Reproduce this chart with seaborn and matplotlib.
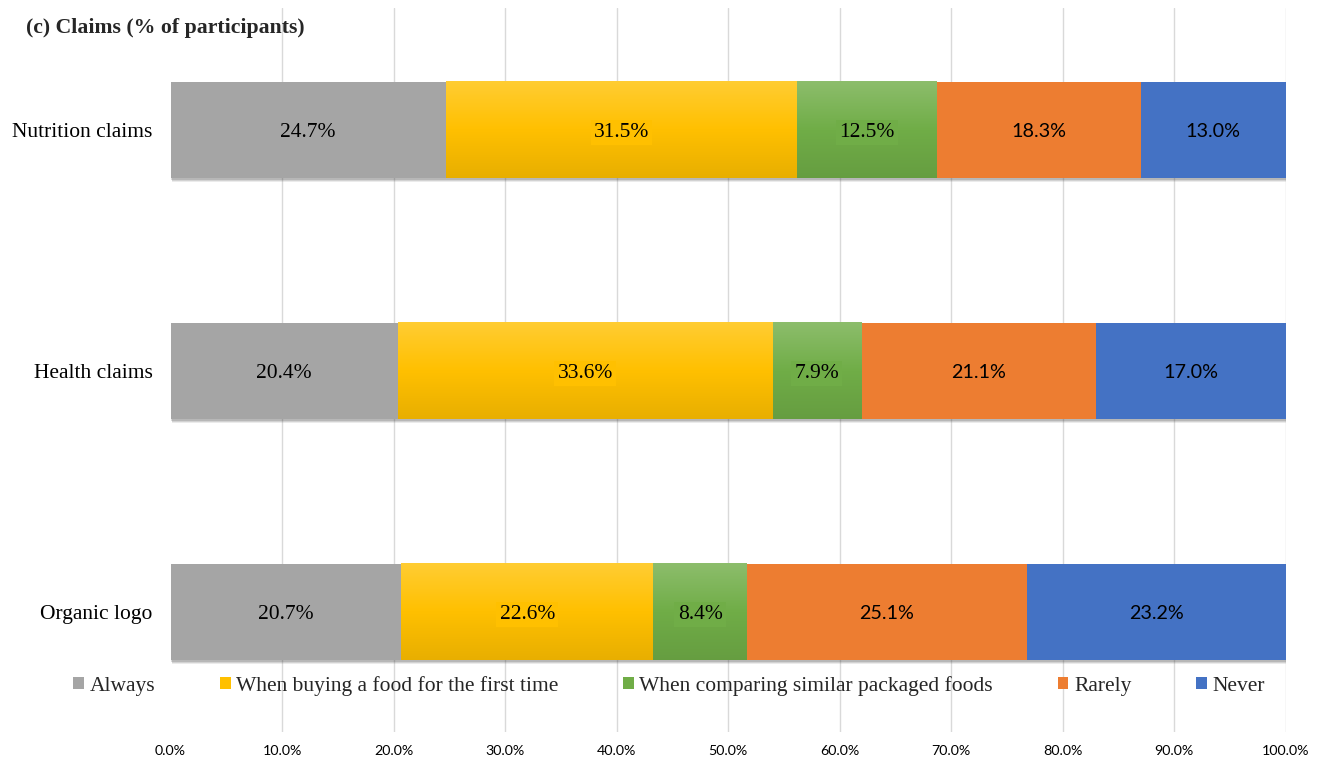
import numpy as np
import pandas as pd
import matplotlib
matplotlib.use("Agg")
import matplotlib.pyplot as plt
import matplotlib.patheffects as pe
from matplotlib.patches import Patch
from matplotlib.colors import to_rgb
import seaborn as sns

# ---- data -------------------------------------------------------------
items = ["Nutrition claims", "Health claims", "Organic logo"]
series = ["Always", "When buying a food for the first time",
          "When comparing similar packaged foods", "Rarely", "Never"]
always = [24.7, 20.4, 20.7]
first_time = [31.5, 33.6, 22.6]
comparing = [12.5, 7.9, 8.4]
rarely = [18.3, 21.1, 25.1]
never = [13.0, 17.0, 23.2]
xticks = [0, 10, 20, 30, 40, 50, 60, 70, 80, 90, 100]
xtick_labels = [f"{t:.1f}%" for t in xticks]
title = "(c) Claims (% of participants)"

values = [always, first_time, comparing, rarely, never]
colors = ["#A5A5A5", "#FFC000", "#70AD47", "#ED7D31", "#4472C4"]
gradient_series = {1, 2}          # these segments get a vertical shading
sans_label_series = {3, 4}        # these segment labels use a sans face

df = pd.DataFrame({
    "item": [it for _ in series for it in items],
    "series": [s for s in series for _ in items],
    "value": [v for vals in values for v in vals],
})

# ---- style ------------------------------------------------------------
sns.set_style("white")
plt.rcParams["font.family"] = ["Liberation Serif", "DejaVu Serif"]
SERIF = ["Liberation Serif", "DejaVu Serif"]
SANS = ["Lato", "DejaVu Sans"]

W, H = 1320, 760
fig = plt.figure(figsize=(W / 100, H / 100), dpi=100)
ax_left, ax_right, ax_top, ax_bottom = 170.5, 1285.5, 8, 732
ax = fig.add_axes([ax_left / W, 1 - ax_bottom / H,
                   (ax_right - ax_left) / W, (ax_bottom - ax_top) / H])

BAR_H = 0.40
# soft drop shadow under each bar: a few stacked translucent offsets
shadow = [pe.SimplePatchShadow(offset=(1.0, -3.0), shadow_rgbFace="#404040",
                               alpha=0.10),
          pe.SimplePatchShadow(offset=(1.0, -2.0), shadow_rgbFace="#404040",
                               alpha=0.14),
          pe.SimplePatchShadow(offset=(0.5, -1.0), shadow_rgbFace="#404040",
                               alpha=0.18),
          pe.Normal()]

lefts = np.zeros(len(items))
for i, (name, col) in enumerate(zip(series, colors)):
    sub = df[df["series"] == name]
    n_before = len(ax.patches)
    sns.barplot(data=sub, x="value", y="item", order=items, orient="h",
                color=col, saturation=1, width=BAR_H, left=lefts.copy(),
                ax=ax, linewidth=0, zorder=3, errorbar=None)
    new_patches = ax.patches[n_before:]
    for p in new_patches:
        p.set_path_effects(shadow)
        p.set_edgecolor("none")
        if i in gradient_series:
            base = np.array(to_rgb(col))
            light = base + (1 - base) * 0.20
            dark = base * 0.91
            t = np.linspace(0, 1, 200)[:, None]
            grad = np.where(t < 0.5,
                            light + (base - light) * (t / 0.5),
                            base + (dark - base) * ((t - 0.5) / 0.5))
            img = grad[:, None, :]
            x0, y0 = p.get_x(), p.get_y()
            w, h = p.get_width(), p.get_height()
            ax.imshow(img, extent=[x0, x0 + w, y0 + h, y0], aspect="auto",
                      origin="upper", interpolation="bilinear", zorder=3.5)
    # value labels at the segment centres
    for j, v in enumerate(values[i]):
        xc = lefts[j] + v / 2
        fam = SANS if i in sans_label_series else SERIF
        size = 14.2 if i in sans_label_series else 15.5
        ax.text(xc, j, f"{v:.1f}%", ha="center", va="center_baseline",
                fontsize=size, family=fam, color="#000000", zorder=5,
                bbox=dict(boxstyle="square,pad=0.15", fc=col, ec="none"))
    lefts += np.array(values[i])

# ---- axes -------------------------------------------------------------
ax.set_xlim(0, 100)
ax.set_ylim((ax_bottom - 130) / 241, (ax_top - 130) / 241)
for s in ax.spines.values():
    s.set_visible(False)
ax.set_xlabel("")
ax.set_ylabel("")
ax.set_xticks(xticks)
ax.set_xticklabels(xtick_labels, family=SANS, fontsize=10.3, color="#000000")
ax.set_yticks(range(len(items)))
ax.set_yticklabels(items, family=SERIF, fontsize=15.5, color="#000000")
ax.tick_params(axis="x", length=0, pad=9.5)
ax.tick_params(axis="y", length=0, pad=13)
ax.grid(axis="x", color="#D9D9D9", linewidth=1.0, zorder=0)
ax.grid(axis="y", visible=False)
ax.set_axisbelow(True)
ax.xaxis.get_gridlines()[0].set_visible(False)

# ---- legend -----------------------------------------------------------
handles = [Patch(facecolor=c, edgecolor="none") for c in colors]
fig.legend(handles, series, loc="center", ncol=5,
           bbox_to_anchor=(669 / W, 1 - 686 / H), frameon=False,
           prop=dict(family=SERIF, size=15.5),
           handlelength=0.5, handleheight=0.5, handletextpad=0.26,
           columnspacing=3.0, borderpad=0, borderaxespad=0)

# ---- title ------------------------------------------------------------
fig.text(26 / W, 1 - 33 / H, title, ha="left", va="baseline",
         fontsize=15.7, fontweight="bold", family=SERIF)

fig.savefig("out.png", dpi=100)
